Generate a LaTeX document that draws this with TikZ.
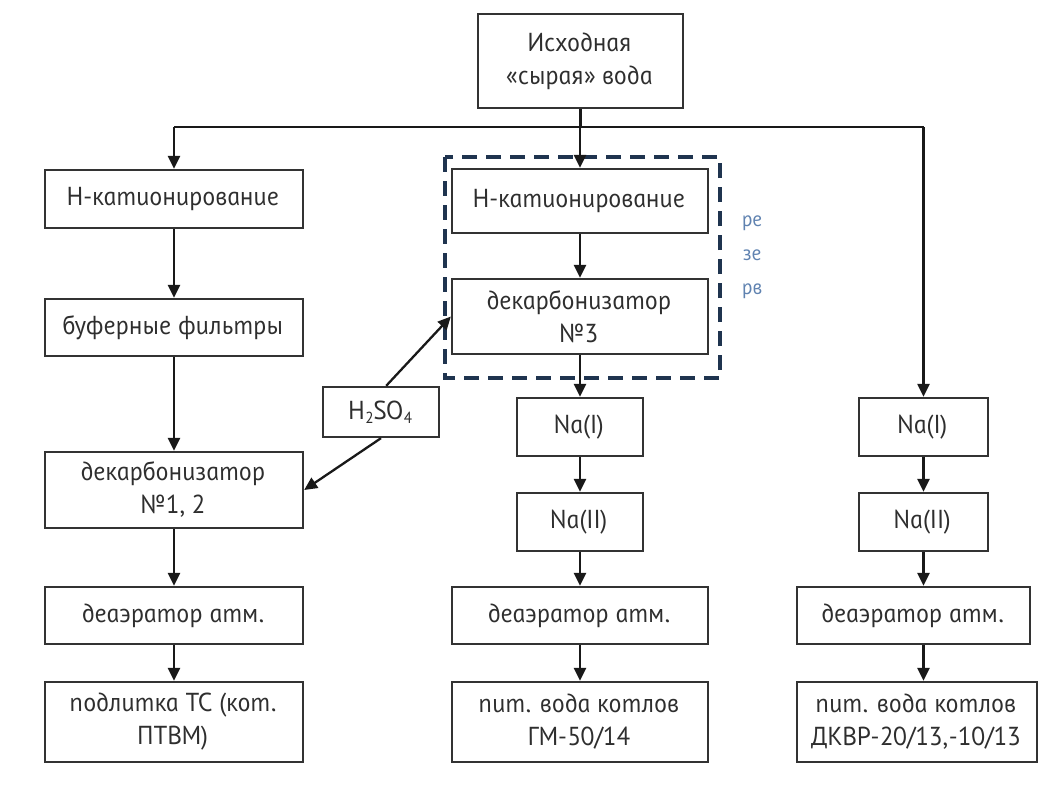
\documentclass[tikz,border=0pt]{standalone}
\usepackage{fontspec}
\setmainfont{PT Sans}[ItalicFeatures={FakeSlant=-0.22}]
\usetikzlibrary{arrows.meta}
\definecolor{boxline}{HTML}{333333}
\definecolor{txt}{HTML}{2E2E2E}
\definecolor{reserve}{HTML}{1F344F}
\definecolor{reservetxt}{HTML}{5F82B0}
\newcommand{\lowidx}[1]{\raisebox{-0.3ex}{\fontsize{16}{16}\selectfont #1}}
\begin{document}
\begin{tikzpicture}[x=1pt,y=-1pt,
  box/.style={draw=boxline, line width=2.3pt, fill=white, text=txt,
    align=center, inner sep=2pt,
    font=\itshape\fontsize{26}{33}\selectfont},
  flow/.style={draw=black!90, line width=2.3pt,
    -{Triangle[length=13pt,width=12pt]}},
  plain/.style={draw=black!90, line width=2.3pt}]
\useasboundingbox (0,0) rectangle (1040,801);

% source
\node[box, minimum width=205, minimum height=94] (src) at (580.5,61) {Исходная\\«сырая» вода};

% left line
\node[box, minimum width=258, minimum height=58] (lh)   at (174,199)   {Н-катионирование};
\node[box, minimum width=258, minimum height=57] (lbuf) at (174,327.5) {буферные фильтры};
\node[box, minimum width=258, minimum height=76] (ldec) at (174,490)   {декарбонизатор\\№1, 2};
\node[box, minimum width=258, minimum height=57] (ldea) at (174,615.5) {деаэратор атм.};
\node[box, minimum width=258, minimum height=80] (lout) at (174,722)   {подлитка ТС (кот.\\ПТВМ)};

% middle line
\node[box, minimum width=256, minimum height=64] (mh)   at (580,201)   {Н-катионирование};
\node[box, minimum width=256, minimum height=75] (mdec) at (580,316.5) {декарбонизатор\\№3};
\node[box, minimum width=126, minimum height=58] (mna1) at (580,427)   {Na(I)};
\node[box, minimum width=126, minimum height=58] (mna2) at (580,522)   {Na(II)};
\node[box, minimum width=256, minimum height=57] (mdea) at (580,615.5) {деаэратор атм.};
\node[box, minimum width=256, minimum height=80] (mout) at (580,722)   {пит. вода котлов\\ГМ-50/14};

% right line
\node[box, minimum width=129, minimum height=58] (rna1) at (923.5,427)  {Na(I)};
\node[box, minimum width=129, minimum height=58] (rna2) at (923.5,522)  {Na(II)};
\node[box, minimum width=233, minimum height=57] (rdea) at (913.5,615.5) {деаэратор атм.};
\node[box, minimum width=240, minimum height=80] (rout) at (917,722)    {пит. вода котлов\\ДКВР-20/13,\kern1.5pt-10/13};

% acid dosing
\node[box, minimum width=116, minimum height=50] (acid) at (381,412) {H\lowidx{2}SO\lowidx{4}};

% reserve unit
\coordinate (resA) at (445,157);
\coordinate (resB) at (720,378);
\draw[reserve, line width=4.5pt, dash pattern=on 15pt off 9pt] (resA) rectangle (resB);
\node[text=reservetxt, align=center, font=\itshape\fontsize{21}{34}\selectfont] (restxt) at (753,257) {ре\\зе\\рв};

% distribution header
\coordinate (jn) at (src.south |- 0,127);
\coordinate (jl) at (lh.north |- jn);
\coordinate (jr) at (rna1.north |- jn);
\draw[plain] (src.south) -- (jn);
\draw[plain] (jl) -- (jr);
\draw[flow] (jl) -- (lh.north);
\draw[flow] (mh.north |- jn) -- (mh.north);
\draw[flow] (jr) -- (rna1.north);

% left chain
\draw[flow] (lh) -- (lbuf);
\draw[flow] (lbuf) -- (ldec);
\draw[flow] (ldec) -- (ldea);
\draw[flow] (ldea) -- (lout);

% middle chain
\draw[flow] (mh) -- (mdec);
\draw[flow] (mdec) -- (mna1);
\draw[flow] (mna1) -- (mna2);
\draw[flow] (mna2) -- (mdea);
\draw[flow] (mdea) -- (mout);

% right chain
\draw[flow] (rna1) -- (rna2);
\draw[flow] (rna2.south) -- (rna2.south |- rdea.north);
\draw[flow] (rna2.south |- rdea.south) -- (rna2.south |- rout.north);

% acid lines
\draw[flow] (acid.north east) ++(-54,0) coordinate (acidtop) -- (mdec.west);
\draw[flow] (acid.south) -- (ldec.east);
\end{tikzpicture}
\end{document}
